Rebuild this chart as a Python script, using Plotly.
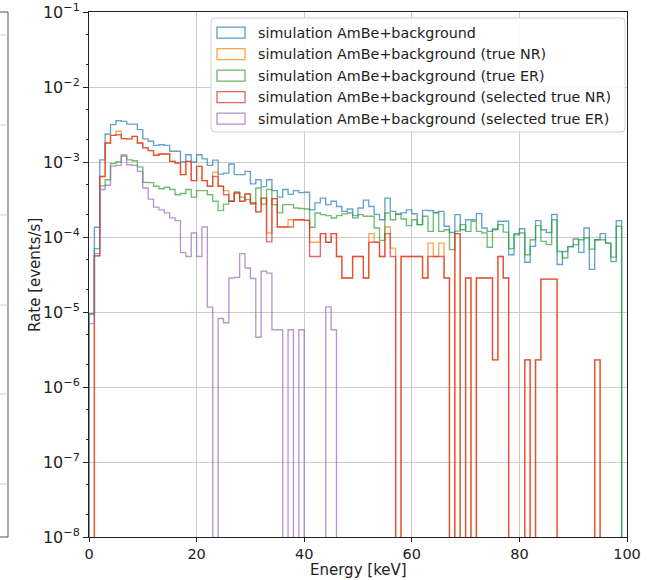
import plotly.graph_objects as go

# ---------------- data ----------------
bin_edges = list(range(0, 100))  # keV, 99 bins of 1 keV

rate_total = [
    9.4e-6, 1.35e-4, 1.07e-3, 2.36e-3, 3.15e-3, 3.56e-3, 3.48e-3, 3.2e-3, 3.2e-3, 2.7e-3,
    2.03e-3, 1.89e-3, 1.67e-3, 1.7e-3, 1.67e-3, 1.39e-3, 1.39e-3, 1.0e-3, 1.25e-3, 1.0e-3,
    1.25e-3, 1.1e-3, 9.0e-4, 1.06e-3, 6.9e-4, 7.1e-4, 9.4e-4, 6.8e-4, 6.8e-4, 7.5e-4,
    5.1e-4, 5.8e-4, 4.7e-4, 5.8e-4, 4.15e-4, 3.4e-4, 4.3e-4, 3.7e-4, 4.15e-4, 3.9e-4,
    3.95e-4, 2.3e-4, 2.85e-4, 3.3e-4, 2.7e-4, 3.0e-4, 2.55e-4, 2.2e-4, 2.36e-4, 1.8e-4,
    2.44e-4, 3.1e-4, 2.55e-4, 2.0e-4, 1.7e-4, 3.3e-4, 2.2e-4, 2.0e-4, 2.1e-4, 2.3e-4,
    2.04e-4, 1.46e-4, 2.27e-4, 2.25e-4, 2.13e-4, 2.2e-4, 1.39e-4, 1.15e-4, 1.99e-4, 1.25e-4,
    1.7e-4, 1.7e-4, 2.05e-4, 1.32e-4, 1.19e-4, 1.28e-4, 1.62e-4, 1.62e-4, 5.8e-5, 1.11e-4,
    1.29e-4, 4.6e-5, 7.5e-5, 1.65e-4, 1.25e-4, 1.15e-4, 2.0e-4, 4.3e-5, 6.4e-5, 7.4e-5,
    9.4e-5, 6.25e-5, 1.32e-4, 3.7e-5, 9.2e-5, 1.11e-4, 8.3e-5, 4.7e-5, 1.65e-4,
]

rate_true_nr = [
    0, 5.6e-5, 6.4e-4, 1.79e-3, 2.27e-3, 2.57e-3, 2.05e-3, 2.03e-3, 2.2e-3, 1.79e-3,
    1.54e-3, 1.42e-3, 1.23e-3, 1.28e-3, 1.28e-3, 1.02e-3, 9.7e-4, 6.8e-4, 1.02e-3, 5.65e-4,
    8.75e-4, 5.65e-4, 4.75e-4, 7.3e-4, 4.75e-4, 4.15e-4, 3.0e-4, 3.86e-4, 3.0e-4, 3.75e-4,
    2.84e-4, 2.16e-4, 3.3e-4, 1.13e-4, 3.25e-4, 1.36e-4, 1.36e-4, 1.7e-4, 1.7e-4, 1.7e-4,
    1.67e-4, 8.5e-5, 8.5e-5, 1.11e-4, 8.5e-5, 1.11e-4, 5.5e-5, 2.84e-5, 2.84e-5, 5.5e-5,
    5.5e-5, 2.84e-5, 1.11e-4, 8.5e-5, 5.5e-5, 1.36e-4, 7.1e-5, 0, 5.5e-5, 5.5e-5,
    5.5e-5, 5.5e-5, 2.84e-5, 8.3e-5, 5.5e-5, 8.3e-5, 2.84e-5, 0, 1.11e-4, 0,
    2.84e-5, 0, 2.84e-5, 2.84e-5, 2.84e-5, 2.3e-6, 5.5e-5, 2.84e-5, 0, 0,
    0, 2.3e-6, 0, 2.3e-6, 2.75e-5, 2.75e-5, 2.75e-5, 0, 0, 0,
    0, 0, 0, 0, 2.3e-6, 0, 0, 0, 0,
]

rate_true_er = [
    9.4e-6, 7.0e-5, 4.8e-4, 5.8e-4, 9.5e-4, 1.0e-3, 1.24e-3, 1.07e-3, 1.04e-3, 8.6e-4,
    5.35e-4, 5.3e-4, 4.75e-4, 4.4e-4, 4.6e-4, 4.3e-4, 3.66e-4, 3.8e-4, 4.3e-4, 3.4e-4,
    4.15e-4, 4.15e-4, 3.66e-4, 3.0e-4, 2.25e-4, 2.75e-4, 3.0e-4, 4.0e-4, 3.4e-4, 3.15e-4,
    2.75e-4, 4.5e-4, 2.75e-4, 4.3e-4, 2.7e-4, 2.1e-4, 2.7e-4, 2.7e-4, 2.44e-4, 2.4e-4,
    2.36e-4, 1.35e-4, 2.09e-4, 1.99e-4, 1.93e-4, 1.79e-4, 1.93e-4, 2.03e-4, 2.09e-4, 1.93e-4,
    1.99e-4, 1.89e-4, 1.89e-4, 1.32e-4, 9.0e-5, 2.09e-4, 1.7e-4, 2.03e-4, 1.74e-4, 1.42e-4,
    1.7e-4, 1.46e-4, 1.89e-4, 1.19e-4, 2.09e-4, 1.19e-4, 1.25e-4, 6.8e-5, 1.2e-4, 1.46e-4,
    1.19e-4, 1.62e-4, 1.19e-4, 1.13e-4, 7.3e-5, 1.25e-4, 1.46e-4, 1.16e-4, 7.0e-5, 1.07e-4,
    1.13e-4, 5.8e-5, 9.2e-5, 1.42e-4, 8.75e-5, 7.9e-5, 1.7e-4, 6.4e-5, 5.25e-5, 7.5e-5,
    7.9e-5, 9.2e-5, 9.7e-5, 6.9e-5, 9.2e-5, 9.2e-5, 8.3e-5, 5.4e-5, 1.39e-4,
]

rate_sel_nr = [
    0, 5.6e-5, 6.4e-4, 1.79e-3, 2.27e-3, 2.31e-3, 2.05e-3, 2.03e-3, 2.2e-3, 1.79e-3,
    1.54e-3, 1.42e-3, 1.23e-3, 1.28e-3, 1.28e-3, 1.02e-3, 9.7e-4, 6.8e-4, 1.02e-3, 5.65e-4,
    8.75e-4, 5.65e-4, 4.75e-4, 6.4e-4, 4.75e-4, 3.66e-4, 3.0e-4, 3.86e-4, 3.0e-4, 3.75e-4,
    2.84e-4, 2.16e-4, 3.3e-4, 8.6e-5, 3.25e-4, 1.36e-4, 1.36e-4, 1.36e-4, 1.7e-4, 1.7e-4,
    1.67e-4, 5.5e-5, 5.5e-5, 1.11e-4, 8.5e-5, 1.11e-4, 5.5e-5, 2.84e-5, 2.84e-5, 5.5e-5,
    5.5e-5, 2.84e-5, 8.5e-5, 8.5e-5, 5.5e-5, 1.11e-4, 5.5e-5, 0, 5.5e-5, 5.5e-5,
    5.5e-5, 5.5e-5, 2.84e-5, 5.5e-5, 5.5e-5, 5.5e-5, 2.84e-5, 0, 1.11e-4, 0,
    2.84e-5, 0, 2.84e-5, 2.84e-5, 2.84e-5, 2.3e-6, 5.5e-5, 2.84e-5, 0, 0,
    0, 2.3e-6, 0, 2.3e-6, 2.75e-5, 2.75e-5, 2.75e-5, 0, 0, 0,
    0, 0, 0, 0, 2.3e-6, 0, 0, 0, 0,
]

rate_sel_er = [
    7.0e-6, 6.0e-5, 4.3e-4, 4.9e-4, 8.8e-4, 9.0e-4, 1.2e-3, 9.2e-4, 9.0e-4, 7.5e-4,
    4.5e-4, 3.2e-4, 2.5e-4, 2.3e-4, 2.1e-4, 1.8e-4, 1.65e-4, 6.2e-5, 5.5e-5, 1.13e-4,
    5.5e-5, 1.36e-4, 1.16e-5, 0, 8.2e-6, 7.2e-6, 2.84e-5, 2.9e-5, 6.0e-5, 3.86e-5,
    2.8e-5, 4.6e-6, 3.5e-5, 3.3e-5, 5.8e-6, 5.8e-6, 0, 5.8e-6, 0, 5.8e-6,
    0, 0, 0, 0, 1.17e-5, 5.8e-6, 0, 0, 0, 0,
    0, 0, 0, 0, 0, 0, 0, 0, 0, 0,
    0, 0, 0, 0, 0, 0, 0, 0, 0, 0,
    0, 0, 0, 0, 0, 0, 0, 0, 0, 0,
    0, 0, 0, 0, 0, 0, 0, 0, 0, 0,
    0, 0, 0, 0, 0, 0, 0, 0, 0,
]

series_names = [
    "simulation AmBe+background",
    "simulation AmBe+background (true NR)",
    "simulation AmBe+background (true ER)",
    "simulation AmBe+background (selected true NR)",
    "simulation AmBe+background (selected true ER)",
]
series_values = [rate_total, rate_true_nr, rate_true_er, rate_sel_nr, rate_sel_er]
series_colors = ["#1f77b4", "#ff7f0e", "#2ca02c", "#d62728", "#9467bd"]

x_tick_vals = [0, 20, 40, 60, 80, 100]
y_tick_vals = [1e-8, 1e-7, 1e-6, 1e-5, 1e-4, 1e-3, 1e-2, 1e-1]
y_tick_text = ["10<sup>\u22128</sup>", "10<sup>\u22127</sup>", "10<sup>\u22126</sup>",
               "10<sup>\u22125</sup>", "10<sup>\u22124</sup>", "10<sup>\u22123</sup>",
               "10<sup>\u22122</sup>", "10<sup>\u22121</sup>"]
x_title = "Energy [keV]"
y_title = "Rate [events/s]"

for v in series_values:
    assert len(v) == len(bin_edges) - 1

# ---------------- figure ----------------
W, H = 657, 580
ML, MR, MT, MB = 89, 30, 12, 43
PW, PH = W - ML - MR, H - MT - MB
FLOOR = 1e-12  # empty bins drop below the axis, as in a log step histogram


def px_x(px):
    return (px - ML) / PW


def px_y(py):
    return (H - MB - py) / PH


def step_xy(values):
    xs = [bin_edges[0]]
    ys = [FLOOR]
    for lo, v in zip(bin_edges[:-1], values):
        xs.append(lo)
        ys.append(v if v > 0 else FLOOR)
    xs.append(bin_edges[-1])
    ys.append(ys[-1])
    xs.append(bin_edges[-1])
    ys.append(FLOOR)
    return xs, ys


fig = go.Figure()
for name, vals, col in zip(series_names, series_values, series_colors):
    xs, ys = step_xy(vals)
    fig.add_trace(go.Scatter(
        x=xs, y=ys, mode="lines", name=name,
        line=dict(color=col, width=1.35, shape="hv"),
        opacity=0.68, showlegend=False, hoverinfo="skip",
    ))

shapes = []
annotations = []

# legend (matplotlib-like: rounded box, rectangular patch handles)
bx0, bx1, by0, by1 = px_x(211), px_x(625), px_y(132), px_y(18)
rx, ry = 4 / PW, 4 / PH
path = (f"M {bx0+rx},{by1} L {bx1-rx},{by1} Q {bx1},{by1} {bx1},{by1-ry} "
        f"L {bx1},{by0+ry} Q {bx1},{by0} {bx1-rx},{by0} L {bx0+rx},{by0} "
        f"Q {bx0},{by0} {bx0},{by0+ry} L {bx0},{by1-ry} Q {bx0},{by1} {bx0+rx},{by1} Z")
shapes.append(dict(type="path", xref="paper", yref="paper", path=path,
                   line=dict(color="#d0d0d0", width=1),
                   fillcolor="rgba(255,255,255,0.85)", layer="above"))
row_centers = [32.7, 54.2, 75.7, 97.2, 118.7]
for name, col, cy in zip(series_names, series_colors, row_centers):
    shapes.append(dict(type="rect", xref="paper", yref="paper",
                       x0=px_x(217), x1=px_x(245), y0=px_y(cy + 5.5), y1=px_y(cy - 5.5),
                       line=dict(color=col, width=1.3), fillcolor="rgba(0,0,0,0)",
                       opacity=0.72, layer="above"))
    annotations.append(dict(xref="paper", yref="paper", x=px_x(256), y=px_y(cy),
                            xanchor="left", yanchor="middle", showarrow=False,
                            text=name, font=dict(size=14.3, color="#222")))

# axis titles placed like the reference
annotations.append(dict(xref="paper", yref="paper", x=px_x(358), y=px_y(569.5),
                        xanchor="center", yanchor="middle", showarrow=False,
                        text=x_title, font=dict(size=15, color="#222")))
annotations.append(dict(xref="paper", yref="paper", x=px_x(35), y=px_y(275),
                        xanchor="center", yanchor="middle", showarrow=False,
                        textangle=-90, text=y_title, font=dict(size=15, color="#222")))

# partial neighbouring panel visible at the left edge
shapes.append(dict(type="line", xref="paper", yref="paper",
                   x0=px_x(8), x1=px_x(8), y0=px_y(537), y1=px_y(12),
                   line=dict(color="#555", width=1)))
for gy in [35, 125, 215, 305, 394, 484]:
    shapes.append(dict(type="line", xref="paper", yref="paper",
                       x0=px_x(0), x1=px_x(7.5), y0=px_y(gy), y1=px_y(gy),
                       line=dict(color="#d0d0d0", width=1)))
for gy in [12, 537]:
    shapes.append(dict(type="line", xref="paper", yref="paper",
                       x0=px_x(0), x1=px_x(8), y0=px_y(gy), y1=px_y(gy),
                       line=dict(color="#555", width=1)))

fig.update_layout(
    width=W, height=H,
    margin=dict(l=ML, r=MR, t=MT, b=MB),
    plot_bgcolor="white", paper_bgcolor="white",
    font=dict(family="DejaVu Sans", size=15, color="#222"),
    showlegend=False,
    shapes=shapes, annotations=annotations,
)
fig.update_xaxes(
    range=[0, 100], tickvals=x_tick_vals, tickfont=dict(size=14.5),
    showgrid=True, gridcolor="#cccccc", gridwidth=1,
    showline=True, linecolor="#222", linewidth=1, mirror=True,
    ticks="outside", ticklen=4, tickcolor="#222",
    zeroline=False, automargin=False,
)
fig.update_yaxes(
    type="log", range=[-8, -1], tickvals=y_tick_vals, ticktext=y_tick_text,
    tickfont=dict(size=16),
    showgrid=True, gridcolor="#cccccc", gridwidth=1,
    showline=True, linecolor="#222", linewidth=1, mirror=True,
    ticks="outside", ticklen=5, tickcolor="#222",
    minor=dict(ticks="outside", ticklen=2.5, tickcolor="#222", showgrid=False),
    zeroline=False, automargin=False,
)

fig.write_html("out.html")
